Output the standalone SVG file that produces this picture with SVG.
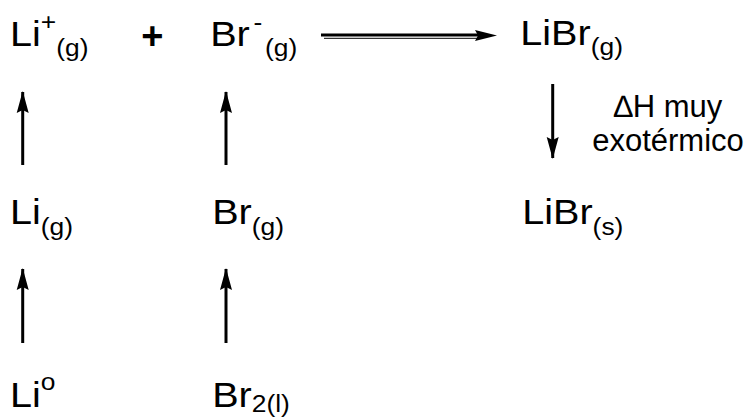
<svg xmlns="http://www.w3.org/2000/svg" width="748" height="417" viewBox="0 0 748 417">
<style>
text{font-family:"Liberation Sans",Arial,sans-serif;fill:#000}
.m{font-size:36px}
.s{font-size:24px}
.lbl{font-size:31px}
.op{font-size:38px;font-weight:bold}
.c{stroke:#000;fill:none}
</style>
<defs>
<marker id="ah" markerWidth="22" markerHeight="14" refX="21" refY="6" orient="auto" markerUnits="userSpaceOnUse" viewBox="0 0 22 12">
<path d="M0,0 L22,6 L0,12 L3,6 Z" fill="#000"/>
</marker>
</defs>
<g id="li-plus"><text class="m" transform="translate(10,45.5) scale(1.1,1)">Li<tspan class="s" dy="-16">+</tspan><tspan class="s" dy="26">(g)</tspan></text></g>
<g id="plus"><text class="op" x="152.3" y="48.8" text-anchor="middle">+</text></g>
<g id="br-minus"><text class="m" transform="translate(210.2,45.5) scale(1.1,1)">Br</text><text class="s" transform="translate(253.5,29.5) scale(1.1,1)">-</text><text class="s" transform="translate(265,55.5) scale(1.1,1)">(g)</text></g>
<g id="libr-g"><text class="m" transform="translate(520.3,45) scale(1.1,1)">LiBr<tspan class="s" dy="10">(g)</tspan></text></g>
<g id="li-g"><text class="m" transform="translate(10,224.3) scale(1.1,1)">Li<tspan class="s" dy="10.5">(g)</tspan></text></g>
<g id="br-g"><text class="m" transform="translate(212.2,224.3) scale(1.1,1)">Br<tspan class="s" dy="10.5">(g)</tspan></text></g>
<g id="libr-s"><text class="m" transform="translate(522.2,224.3) scale(1.1,1)">LiBr<tspan class="s" dy="10.5">(s)</tspan></text></g>
<g id="li-0"><text class="m" transform="translate(10,406.5) scale(1.1,1)">Li<tspan class="s" dy="-16.5">o</tspan></text></g>
<g id="br2-l"><text class="m" transform="translate(212.2,406.5) scale(1.1,1)">Br<tspan class="s" dy="5.5">2(l)</tspan></text></g>
<g id="dh-label"><text class="lbl" x="668" y="117" text-anchor="middle">∆H muy</text><text class="lbl" x="668" y="151" text-anchor="middle">exotérmico</text></g>
<g id="connectors">
<line class="c" x1="321" y1="35" x2="480" y2="35" stroke-width="3"/>
<line class="c" x1="324" y1="38.3" x2="480" y2="38.3" stroke-width="1"/>
<path d="M475,30 L497,35.5 L475,41 L478,35.5 Z" fill="#000"/>
<line class="c" x1="22.7" y1="165" x2="22.7" y2="92" stroke-width="3" marker-end="url(#ah)"/>
<line class="c" x1="226" y1="165" x2="226" y2="92" stroke-width="3" marker-end="url(#ah)"/>
<line class="c" x1="22.7" y1="343" x2="22.7" y2="269" stroke-width="3" marker-end="url(#ah)"/>
<line class="c" x1="226" y1="343" x2="226" y2="269" stroke-width="3" marker-end="url(#ah)"/>
<line class="c" x1="552.7" y1="84" x2="552.7" y2="158" stroke-width="3" marker-end="url(#ah)"/>
</g>
</svg>
